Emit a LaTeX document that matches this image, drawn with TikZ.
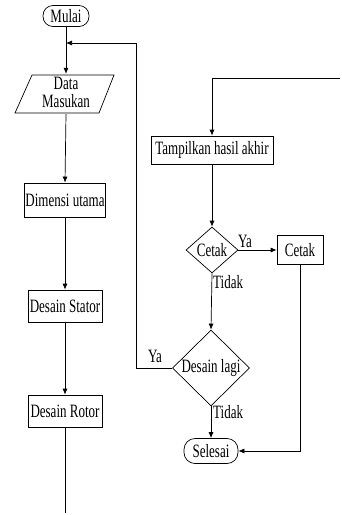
\documentclass[tikz,border=0pt]{standalone}
\usepackage{fontspec}
\setmainfont{Liberation Serif}
\usetikzlibrary{shapes.geometric,arrows.meta}
\newcommand{\st}[1]{\scalebox{1}[1.45]{#1}}
\tikzset{
  every node/.style={font=\fontsize{13}{15}\selectfont, inner sep=0pt},
  box/.style={draw, rectangle, line width=0.7pt},
  term/.style={draw, rectangle, rounded corners=10pt, line width=0.7pt},
  dec/.style={draw, diamond, line width=0.7pt},
  ln/.style={line width=0.7pt},
  arr/.style={line width=0.7pt, -{Latex[length=6pt,width=5pt]}},
}
\begin{document}
\begin{tikzpicture}[x=1pt,y=-1pt]
\useasboundingbox (0,0) rectangle (341,515);
\node[term, minimum width=46, minimum height=21] (mulai) at (66,16) {\st{Mulai}};
\node[minimum width=60, minimum height=38] (data) at (66,94) {\st{\begin{tabular}{@{}c@{}}Data\\[-2.5pt]Masukan\end{tabular}}};
\draw[ln] (15,113)--(32,75)--(114,75)--(99,113)--cycle;
\node[box, minimum width=81, minimum height=34] (dim) at (65,200) {\st{Dimensi utama}};
\node[box, minimum width=74, minimum height=32] (stator) at (65,306) {\st{Desain Stator}};
\node[box, minimum width=74, minimum height=32] (rotor) at (65,411) {\st{Desain Rotor}};
\coordinate (bot) at (65,513);
\coordinate (back) at (66,43);
\coordinate (corner) at (136,368);
\coordinate (topr) at (340,78);
\node[box, minimum width=122, minimum height=28] (tampil) at (212,150) {\st{Tampilkan hasil akhir}};
\node[dec, minimum width=52, minimum height=46] (cetakd) at (212,250) {\st{Cetak}};
\node[box, minimum width=46, minimum height=29] (cetakb) at (300,250) {\st{Cetak}};
\node[dec, minimum width=77, minimum height=63] (lagi) at (211,368) {\st{Desain lagi}};
\node[term, minimum width=54, minimum height=25, rounded corners=11pt] (selesai) at (211,451) {\st{Selesai}};

\draw[arr] (mulai) -- (data.north);
\draw[arr] (data.south) -- (dim.north);
\draw[arr] (dim) -- (stator);
\draw[arr] (stator) -- (rotor);
\draw[ln] (rotor) -- (bot);
\draw[arr] (lagi.west) -- (corner) |- (back);
\draw[arr] (topr) -| (tampil.north);
\draw[arr] (tampil) -- (cetakd.north);
\draw[arr] (cetakd) -- (cetakb);
\draw[arr] (cetakd.south) -- (lagi.north);
\draw[arr] (lagi.south) -- (selesai.north);
\draw[arr] (cetakb.south) |- (selesai.east);

\node (l1) at (245,241) {\st{Ya}};
\node[anchor=west] (l2) at (213,282) {\st{Tidak}};
\node (l3) at (155,356) {\st{Ya}};
\node[anchor=west] (l4) at (213,412) {\st{Tidak}};
\end{tikzpicture}
\end{document}
